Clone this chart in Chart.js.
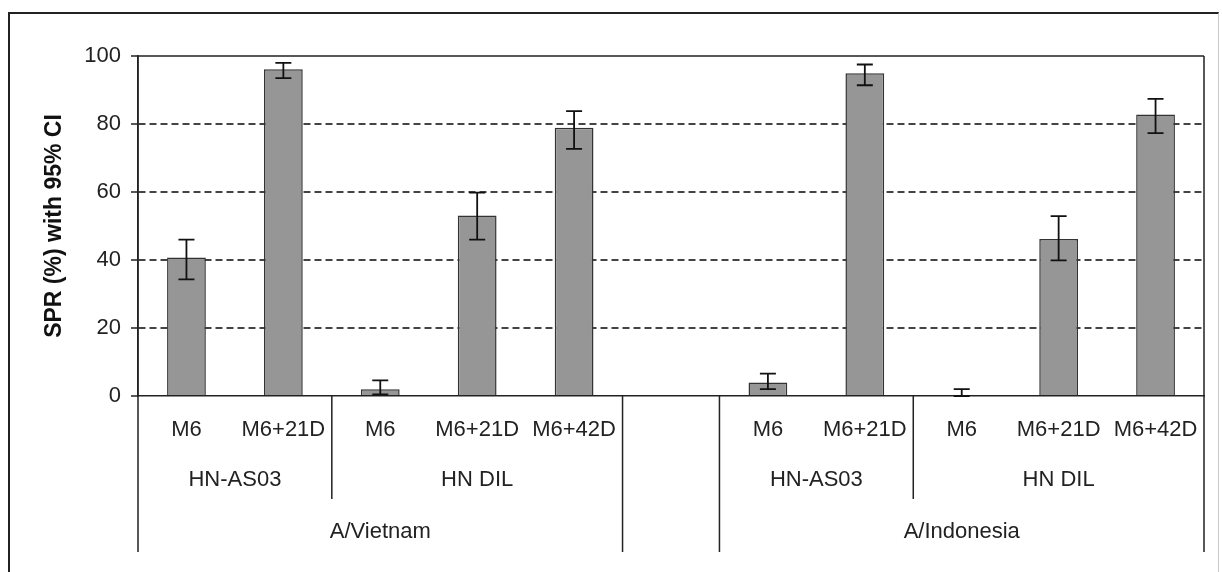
<!DOCTYPE html>
<html>
<head>
<meta charset="utf-8">
<title>SPR with 95% CI</title>
<script src="https://cdn.jsdelivr.net/npm/chart.js@4.4.1/dist/chart.umd.min.js"></script>
<style>
  html, body { margin: 0; padding: 0; background: #fff; overflow: hidden; }
  .frame {
    position: absolute; left: 8px; top: 12px; width: 1208px; height: 640px;
    border-left: 2px solid #222; border-top: 2px solid #222; border-right: 1px solid #c8c8c8;
  }
  #sprChart { position: absolute; left: 0; top: 0; }
</style>
</head>
<body>
<div class="frame"></div>
<canvas id="sprChart" width="1222" height="572"></canvas>
<script>
// categories (one slot is left empty between the two strains)
const timepoints = ['M6', 'M6+21D', 'M6', 'M6+21D', 'M6+42D', '', 'M6', 'M6+21D', 'M6', 'M6+21D', 'M6+42D'];
const formulations = ['HN-AS03', 'HN DIL', 'HN-AS03', 'HN DIL'];
const formulationSpans = [[0, 1], [2, 4], [6, 7], [8, 10]];
const strains = ['A/Vietnam', 'A/Indonesia'];
const strainSpans = [[0, 4], [6, 10]];

// seroprotection rate and 95% CI bounds
const sprValues = [40.7, 96.1, 2.0, 53.1, 78.9, null, 4.0, 94.9, 0, 46.2, 82.8];
const ciLower   = [34.3, 93.5, 0.5, 46.0, 72.7, null, 2.0, 91.4, 0, 39.9, 77.3];
const ciUpper   = [46.0, 98.0, 4.6, 59.8, 83.8, null, 6.6, 97.5, 2.0, 52.9, 87.4];

const yMin = 0;
const yMax = 100;
const yStep = 20;
const yTitle = 'SPR (%) with 95% CI';

Chart.defaults.font.family = "'Liberation Sans', Arial, sans-serif";
Chart.defaults.color = '#222';

const errorBars = {
  id: 'errorBars',
  afterDatasetsDraw(chart) {
    const ctx = chart.ctx;
    const y = chart.scales.y;
    const meta = chart.getDatasetMeta(0);
    ctx.save();
    ctx.strokeStyle = '#111';
    ctx.lineWidth = 1.8;
    meta.data.forEach((bar, i) => {
      if (ciUpper[i] == null) return;
      const yu = y.getPixelForValue(ciUpper[i]);
      const yl = y.getPixelForValue(ciLower[i]);
      ctx.beginPath();
      ctx.moveTo(bar.x, yu); ctx.lineTo(bar.x, yl);
      ctx.moveTo(bar.x - 8, yu); ctx.lineTo(bar.x + 8, yu);
      ctx.moveTo(bar.x - 8, yl); ctx.lineTo(bar.x + 8, yl);
      ctx.stroke();
    });
    ctx.restore();
  }
};

// plot frame + nested category labels under the x axis
const groupAxis = {
  id: 'groupAxis',
  afterDraw(chart) {
    const ctx = chart.ctx;
    const x = chart.scales.x;
    const area = chart.chartArea;
    const edge = v => x.getPixelForValue(v);
    const longEdges = [];
    strainSpans.forEach(s => { longEdges.push(s[0] - 0.5, s[1] + 0.5); });

    ctx.save();
    ctx.strokeStyle = '#222';
    ctx.lineWidth = 1.5;
    ctx.beginPath();
    ctx.moveTo(area.left, area.top); ctx.lineTo(area.right, area.top);
    ctx.moveTo(area.right, area.top); ctx.lineTo(area.right, area.bottom);
    ctx.moveTo(area.left, area.top); ctx.lineTo(area.left, area.bottom);
    longEdges.forEach(v => {
      const px = edge(v);
      ctx.moveTo(px, area.bottom); ctx.lineTo(px, area.bottom + 156);
    });
    formulationSpans.forEach(s => {
      [s[0] - 0.5, s[1] + 0.5].forEach(v => {
        if (longEdges.includes(v)) return;
        const px = edge(v);
        ctx.moveTo(px, area.bottom); ctx.lineTo(px, area.bottom + 103);
      });
    });
    ctx.stroke();

    ctx.fillStyle = '#222';
    ctx.font = "22px 'Liberation Sans', Arial, sans-serif";
    ctx.textAlign = 'center';
    ctx.textBaseline = 'middle';
    timepoints.forEach((t, i) => {
      if (t) ctx.fillText(t, x.getPixelForValue(i), area.bottom + 34);
    });
    formulations.forEach((f, k) => {
      const s = formulationSpans[k];
      ctx.fillText(f, (edge(s[0] - 0.5) + edge(s[1] + 0.5)) / 2, area.bottom + 84);
    });
    strains.forEach((st, k) => {
      const s = strainSpans[k];
      ctx.fillText(st, (edge(s[0] - 0.5) + edge(s[1] + 0.5)) / 2, area.bottom + 136);
    });
    ctx.restore();
  }
};

new Chart(document.getElementById('sprChart').getContext('2d'), {
  type: 'bar',
  data: {
    labels: timepoints,
    datasets: [{
      label: yTitle,
      data: sprValues,
      backgroundColor: '#969696',
      borderColor: '#333',
      borderWidth: 1.5,
      barPercentage: 0.8,
      categoryPercentage: 0.5
    }]
  },
  options: {
    responsive: false,
    animation: false,
    devicePixelRatio: 1,
    layout: { padding: { top: 56, right: 18, bottom: 0, left: 0 } },
    scales: {
      x: {
        ticks: { display: false },
        grid: { display: false },
        border: { display: true, color: '#222', width: 1.5 },
        afterFit: s => { s.height = 176; }
      },
      y: {
        min: yMin,
        max: yMax,
        ticks: { stepSize: yStep, padding: 10, font: { size: 22 }, color: '#222' },
        grid: {
          color: c => (c.tick && (c.tick.value === yMin || c.tick.value === yMax)) ? 'rgba(0,0,0,0)' : '#444',
          lineWidth: 2,
          tickLength: 7,
          tickColor: '#222',
          tickWidth: 1.5,
          tickBorderDash: []
        },
        border: { display: true, color: '#222', width: 1.5, dash: [7, 4] },
        title: {
          display: true,
          text: yTitle,
          font: { size: 23, weight: 'bold' },
          color: '#111',
          padding: { top: 41, bottom: 0 }
        },
        afterFit: s => { s.width = 138; }
      }
    },
    plugins: {
      legend: { display: false },
      tooltip: { enabled: false }
    }
  },
  plugins: [errorBars, groupAxis]
});
</script>
</body>
</html>
